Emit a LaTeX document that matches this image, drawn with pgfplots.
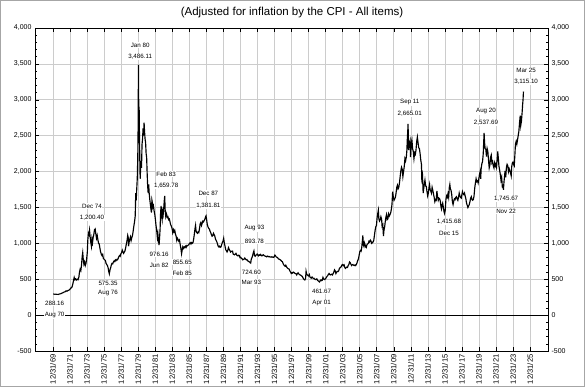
\documentclass[border=0pt]{standalone}
\usepackage{pgfplots}
\pgfplotsset{compat=1.18}
\usepackage{fontspec}
\setmainfont{Liberation Sans}
\definecolor{gridc}{gray}{0.80}
\tikzset{lbl/.style={font=\fontsize{6.2}{7}\selectfont, fill=white, inner sep=0.6pt}}
\pgfplotstableread{
x y
1970.04 296
1970.12 293
1970.2 291
1970.3 292
1970.4 290
1970.5 289
1970.62 288.16
1970.7 292
1970.8 295
1970.9 297
1970.97 300
1971.05 306
1971.15 310
1971.25 318
1971.35 322
1971.45 326
1971.55 338
1971.65 333
1971.75 342
1971.85 346
1971.95 352
1972.05 368
1972.15 380
1972.25 392
1972.35 440
1972.42 480
1972.5 525
1972.58 495
1972.66 505
1972.75 488
1972.85 500
1972.95 492
1973.05 530
1973.12 600
1973.2 640
1973.28 620
1973.36 700
1973.44 820
1973.5 870
1973.56 780
1973.64 710
1973.72 740
1973.8 690
1973.88 720
1973.96 780
1974.04 880
1974.1 1050
1974.17 1140
1974.24 1120
1974.3 1180
1974.37 1090
1974.44 1020
1974.52 960
1974.58 1060
1974.65 1010
1974.72 1080
1974.8 1120
1974.88 1190
1974.96 1200.4
1975.04 1130
1975.12 1070
1975.2 1110
1975.28 1050
1975.36 1000
1975.44 990
1975.52 930
1975.6 880
1975.68 850
1975.76 830
1975.84 845
1975.92 790
1976.0 780
1976.08 770
1976.16 760
1976.24 720
1976.32 705
1976.4 690
1976.48 660
1976.55 610
1976.62 575.35
1976.7 630
1976.78 660
1976.86 700
1976.94 720
1977.02 715
1977.1 740
1977.18 755
1977.26 745
1977.34 770
1977.42 760
1977.5 775
1977.58 770
1977.66 790
1977.74 815
1977.82 830
1977.9 820
1977.98 855
1978.06 870
1978.14 905
1978.22 880
1978.3 860
1978.38 880
1978.46 895
1978.54 940
1978.62 990
1978.7 1040
1978.78 1110
1978.84 1080
1978.88 960
1978.95 1020
1979.03 1060
1979.1 1090
1979.18 1040
1979.26 1080
1979.34 1110
1979.42 1170
1979.5 1240
1979.58 1300
1979.66 1380
1979.72 1700
1979.78 1600
1979.84 1760
1979.9 1900
1979.96 2200
1980.0 2600
1980.04 3486.11
1980.08 2750
1980.12 2900
1980.16 2500
1980.2 2150
1980.24 1900
1980.28 2000
1980.34 2150
1980.4 2050
1980.46 2380
1980.52 2450
1980.58 2600
1980.64 2500
1980.7 2680
1980.76 2550
1980.82 2450
1980.88 2400
1980.94 2250
1981.0 2200
1981.06 1980
1981.12 1800
1981.18 1700
1981.24 1820
1981.3 1700
1981.36 1620
1981.42 1560
1981.5 1480
1981.56 1430
1981.62 1600
1981.68 1560
1981.74 1500
1981.8 1520
1981.88 1450
1981.96 1400
1982.04 1320
1982.1 1250
1982.18 1180
1982.26 1080
1982.32 1130
1982.38 1050
1982.46 976.16
1982.52 1080
1982.58 1200
1982.64 1430
1982.7 1520
1982.76 1380
1982.82 1330
1982.88 1440
1982.94 1400
1983.0 1480
1983.06 1580
1983.12 1659.78
1983.18 1450
1983.24 1380
1983.3 1420
1983.36 1400
1983.42 1360
1983.5 1370
1983.58 1330
1983.66 1340
1983.74 1300
1983.82 1260
1983.9 1240
1983.98 1210
1984.06 1150
1984.14 1190
1984.22 1160
1984.3 1180
1984.38 1130
1984.46 1100
1984.54 1040
1984.62 1070
1984.7 1050
1984.78 1030
1984.86 1045
1984.94 980
1985.02 930
1985.1 855.65
1985.16 900
1985.24 950
1985.32 930
1985.4 950
1985.48 940
1985.56 960
1985.64 945
1985.72 970
1985.8 965
1985.88 975
1985.96 985
1986.04 1000
1986.12 1010
1986.2 990
1986.28 1010
1986.36 1000
1986.44 1010
1986.52 1060
1986.6 1130
1986.68 1210
1986.74 1250
1986.8 1170
1986.88 1150
1986.96 1140
1987.04 1160
1987.12 1150
1987.2 1200
1987.28 1270
1987.36 1290
1987.44 1250
1987.52 1280
1987.6 1310
1987.68 1300
1987.76 1320
1987.84 1340
1987.92 1370
1987.97 1381.81
1988.04 1330
1988.12 1260
1988.2 1230
1988.28 1210
1988.36 1200
1988.44 1170
1988.52 1150
1988.6 1120
1988.68 1100
1988.76 1110
1988.84 1140
1988.92 1120
1989.0 1100
1989.08 1060
1989.16 1040
1989.24 1020
1989.32 990
1989.4 960
1989.48 950
1989.56 960
1989.64 945
1989.72 950
1989.8 980
1989.88 1010
1989.96 1030
1990.04 1070
1990.12 1000
1990.2 960
1990.28 910
1990.36 900
1990.44 880
1990.52 900
1990.6 940
1990.68 920
1990.76 900
1990.84 880
1990.92 890
1991.0 885
1991.08 890
1991.16 850
1991.24 845
1991.32 840
1991.4 850
1991.48 860
1991.56 840
1991.64 830
1991.72 825
1991.8 835
1991.88 830
1991.96 800
1992.04 805
1992.12 790
1992.2 785
1992.28 770
1992.36 775
1992.44 780
1992.52 795
1992.6 780
1992.68 770
1992.76 775
1992.84 760
1992.92 750
1993.0 745
1993.08 740
1993.15 730
1993.21 724.6
1993.28 780
1993.36 800
1993.44 830
1993.52 870
1993.59 893.78
1993.66 830
1993.74 820
1993.82 835
1993.9 840
1993.97 850
1994.05 835
1994.13 825
1994.21 840
1994.29 835
1994.37 845
1994.45 830
1994.53 825
1994.61 835
1994.69 840
1994.77 830
1994.85 825
1994.93 820
1995.01 818
1995.09 812
1995.17 822
1995.25 818
1995.33 812
1995.41 815
1995.49 810
1995.57 808
1995.65 812
1995.73 806
1995.81 810
1995.89 805
1995.97 812
1996.05 835
1996.13 825
1996.21 810
1996.29 805
1996.37 800
1996.45 785
1996.53 780
1996.61 775
1996.69 770
1996.77 760
1996.85 750
1996.93 745
1997.01 720
1997.09 700
1997.17 690
1997.25 680
1997.33 695
1997.41 675
1997.49 660
1997.57 650
1997.65 645
1997.73 640
1997.81 615
1997.89 600
1997.97 580
1998.05 590
1998.13 585
1998.21 600
1998.29 595
1998.37 585
1998.45 580
1998.53 575
1998.61 560
1998.69 580
1998.77 590
1998.85 575
1998.93 565
1999.01 560
1999.09 555
1999.17 548
1999.25 540
1999.33 525
1999.41 505
1999.49 495
1999.57 490
1999.65 510
1999.71 610
1999.77 575
1999.85 560
1999.93 550
2000.01 545
2000.09 565
2000.17 530
2000.25 520
2000.33 515
2000.41 530
2000.49 520
2000.57 510
2000.65 512
2000.73 500
2000.81 495
2000.89 500
2000.97 505
2001.05 485
2001.13 478
2001.21 470
2001.29 461.67
2001.37 478
2001.45 490
2001.53 480
2001.61 485
2001.69 525
2001.77 505
2001.85 495
2001.93 500
2002.01 510
2002.09 525
2002.17 540
2002.25 550
2002.33 570
2002.41 580
2002.49 565
2002.57 560
2002.65 565
2002.73 570
2002.81 560
2002.89 580
2002.97 600
2003.05 630
2003.13 615
2003.21 580
2003.29 600
2003.37 610
2003.45 605
2003.53 615
2003.61 645
2003.69 660
2003.77 665
2003.85 680
2003.93 700
2004.01 705
2004.09 690
2004.17 700
2004.25 665
2004.33 650
2004.41 660
2004.49 670
2004.57 665
2004.65 690
2004.73 705
2004.81 740
2004.89 730
2004.97 710
2005.05 690
2005.13 700
2005.21 705
2005.29 695
2005.37 690
2005.45 700
2005.53 690
2005.61 705
2005.69 730
2005.77 760
2005.85 780
2005.93 830
2006.01 880
2006.09 900
2006.17 890
2006.25 950
2006.33 1050
2006.37 1110
2006.43 980
2006.49 960
2006.55 1010
2006.61 990
2006.69 950
2006.77 940
2006.85 980
2006.93 990
2007.01 1000
2007.09 1030
2007.17 1020
2007.25 1045
2007.33 1030
2007.41 1000
2007.49 1010
2007.57 1020
2007.65 1040
2007.73 1110
2007.81 1180
2007.89 1230
2007.97 1250
2008.05 1360
2008.13 1420
2008.19 1460
2008.25 1340
2008.33 1310
2008.41 1330
2008.49 1370
2008.57 1340
2008.63 1240
2008.71 1260
2008.79 1100
2008.85 1180
2008.93 1230
2008.99 1290
2009.07 1360
2009.15 1400
2009.23 1330
2009.31 1340
2009.39 1410
2009.47 1380
2009.55 1400
2009.63 1420
2009.71 1470
2009.79 1540
2009.87 1720
2009.95 1640
2010.03 1600
2010.11 1620
2010.19 1640
2010.27 1700
2010.35 1780
2010.43 1810
2010.51 1760
2010.59 1780
2010.67 1840
2010.75 1930
2010.83 2010
2010.91 2060
2010.99 2030
2011.07 1930
2011.15 2000
2011.23 2070
2011.31 2180
2011.39 2150
2011.47 2200
2011.53 2280
2011.59 2450
2011.64 2560
2011.68 2665.01
2011.73 2300
2011.79 2430
2011.85 2380
2011.91 2420
2011.97 2200
2012.05 2390
2012.13 2440
2012.21 2320
2012.29 2280
2012.37 2180
2012.45 2260
2012.53 2240
2012.61 2300
2012.69 2420
2012.77 2480
2012.85 2400
2012.93 2330
2013.01 2320
2013.09 2250
2013.17 2160
2013.25 2100
2013.29 1900
2013.37 1950
2013.45 1700
2013.5 1750
2013.58 1820
2013.66 1880
2013.74 1800
2013.82 1790
2013.9 1720
2013.98 1660
2014.06 1700
2014.14 1780
2014.2 1820
2014.26 1750
2014.34 1730
2014.42 1700
2014.5 1780
2014.58 1740
2014.66 1690
2014.74 1640
2014.82 1580
2014.9 1610
2014.98 1600
2015.06 1730
2015.14 1650
2015.22 1600
2015.3 1630
2015.38 1620
2015.46 1590
2015.54 1510
2015.6 1480
2015.66 1530
2015.74 1560
2015.82 1500
2015.9 1440
2015.96 1415.68
2016.04 1460
2016.12 1610
2016.2 1660
2016.28 1640
2016.36 1690
2016.44 1640
2016.52 1780
2016.58 1820
2016.64 1760
2016.72 1740
2016.8 1680
2016.88 1580
2016.96 1540
2017.04 1590
2017.12 1620
2017.2 1610
2017.28 1640
2017.36 1650
2017.44 1620
2017.52 1600
2017.6 1640
2017.68 1700
2017.76 1660
2017.84 1640
2017.92 1630
2017.98 1670
2018.06 1720
2018.14 1690
2018.22 1680
2018.3 1700
2018.38 1660
2018.46 1620
2018.54 1560
2018.62 1530
2018.7 1500
2018.78 1520
2018.86 1540
2018.94 1580
2019.02 1630
2019.1 1650
2019.18 1610
2019.26 1600
2019.34 1610
2019.42 1660
2019.5 1770
2019.58 1840
2019.66 1900
2019.74 1860
2019.82 1870
2019.9 1840
2019.98 1900
2020.06 1960
2020.14 2000
2020.2 1900
2020.26 2050
2020.34 2110
2020.42 2140
2020.5 2250
2020.55 2400
2020.6 2537.69
2020.66 2400
2020.72 2320
2020.8 2310
2020.88 2210
2020.96 2320
2021.04 2280
2021.12 2160
2021.2 2050
2021.28 2090
2021.36 2200
2021.44 2230
2021.52 2120
2021.6 2140
2021.68 2080
2021.76 2050
2021.84 2120
2021.92 2080
2021.98 2100
2022.06 2060
2022.14 2180
2022.2 2280
2022.26 2200
2022.34 2080
2022.42 2020
2022.5 1960
2022.58 1880
2022.66 1920
2022.74 1790
2022.82 1800
2022.87 1745.67
2022.93 1850
2022.99 1920
2023.06 2010
2023.14 1920
2023.22 2060
2023.3 2100
2023.38 2080
2023.46 2000
2023.54 2040
2023.62 2010
2023.7 1980
2023.78 1940
2023.84 2070
2023.92 2120
2023.98 2130
2024.06 2100
2024.14 2080
2024.22 2250
2024.28 2380
2024.36 2420
2024.44 2380
2024.52 2440
2024.6 2500
2024.68 2560
2024.76 2680
2024.84 2780
2024.9 2640
2024.98 2700
2025.06 2820
2025.12 2930
2025.17 3000
2025.22 3115.1
}\golddata

\begin{document}
\begin{tikzpicture}
\useasboundingbox (0pt,0pt) rectangle (585pt,387pt);
\draw[gray!70, line width=1.2pt] (0.6pt,0.6pt) rectangle (584.4pt,386.4pt);
\node[font=\fontsize{11.5}{13}\selectfont] at (292pt,374pt) {(Adjusted for inflation by the CPI - All items)};
\begin{axis}[
  at={(35pt,36pt)}, anchor=south west,
  scale only axis, width=513pt, height=323pt,
  xmin=1967.9, xmax=2028.1, ymin=-500, ymax=4000,
  xtick={1970,1972,...,2026},
  xticklabels={12/31/69,12/31/71,12/31/73,12/31/75,12/31/77,12/31/79,12/31/81,12/31/83,12/31/85,12/31/87,12/31/89,12/31/91,12/31/93,12/31/95,12/31/97,12/31/99,12/31/01,12/31/03,12/31/05,12/31/07,12/31/09,12/31/11,12/31/13,12/31/15,12/31/17,12/31/19,12/31/21,12/31/23,12/31/25},
  ytick={-500,0,...,4000},
  minor x tick num=1, minor y tick num=4,
  grid=major, major grid style={gridc, line width=0.6pt},
  tick align=inside, major tick length=4pt, minor tick length=2.5pt,
  tick style={black, line width=0.5pt},
  axis line style={black, line width=0.7pt},
  /pgf/number format/assume math mode=true,
  /pgf/number format/1000 sep={,},
  yticklabel style={font=\fontsize{7}{8}\selectfont},
  xticklabel style={font=\fontsize{7.6}{8}\selectfont, rotate=90, anchor=east},
  clip=false,
]
\addplot[black, line width=1pt, forget plot] coordinates {(1967.9,0) (2028.1,0)};
\addplot[black, line width=1.15pt] table[x=x,y=y] {\golddata};
\node[lbl] at (axis cs:1970.2,167) {288.16};
\node[lbl] at (axis cs:1970.2,0) {Aug 70};
\node[lbl] at (axis cs:1974.59,1518) {Dec 74};
\node[lbl] at (axis cs:1974.59,1351) {1,200.40};
\node[lbl] at (axis cs:1976.47,446) {575.35};
\node[lbl] at (axis cs:1976.47,306) {Aug 76};
\node[lbl] at (axis cs:1980.24,3761) {Jan 80};
\node[lbl] at (axis cs:1980.24,3594) {3,486.11};
\node[lbl] at (axis cs:1983.29,1964) {Feb 83};
\node[lbl] at (axis cs:1983.29,1797) {1,659.78};
\node[lbl] at (axis cs:1982.47,850) {976.16};
\node[lbl] at (axis cs:1982.47,697) {Jun 82};
\node[lbl] at (axis cs:1985.18,738) {855.65};
\node[lbl] at (axis cs:1985.18,585) {Feb 85};
\node[lbl] at (axis cs:1988.24,1699) {Dec 87};
\node[lbl] at (axis cs:1988.24,1518) {1,381.81};
\node[lbl] at (axis cs:1993.65,1212) {Aug 93};
\node[lbl] at (axis cs:1993.65,1031) {893.78};
\node[lbl] at (axis cs:1993.29,599) {724.60};
\node[lbl] at (axis cs:1993.29,460) {Mar 93};
\node[lbl] at (axis cs:2001.53,334) {461.67};
\node[lbl] at (axis cs:2001.53,167) {Apr 01};
\node[lbl] at (axis cs:2011.88,2967) {Sep 11};
\node[lbl] at (axis cs:2011.88,2800) {2,665.01};
\node[lbl] at (axis cs:2016.47,1295) {1,415.68};
\node[lbl] at (axis cs:2016.47,1142) {Dec 15};
\node[lbl] at (axis cs:2020.82,2842) {Aug 20};
\node[lbl] at (axis cs:2020.82,2675) {2,537.69};
\node[lbl] at (axis cs:2023.18,1616) {1,745.67};
\node[lbl] at (axis cs:2023.18,1449) {Nov 22};
\node[lbl] at (axis cs:2025.53,3413) {Mar 25};
\node[lbl] at (axis cs:2025.53,3246) {3,115.10};
\end{axis}
\begin{axis}[
  at={(35pt,36pt)}, anchor=south west,
  scale only axis, width=513pt, height=323pt,
  xmin=1967.9, xmax=2028.1, ymin=-500, ymax=4000,
  xtick=\empty, ytick={-500,0,...,4000},
  yticklabel pos=right,
  axis line style={draw=none}, major tick length=0pt,
  /pgf/number format/assume math mode=true,
  /pgf/number format/1000 sep={,},
  yticklabel style={font=\fontsize{7}{8}\selectfont},
]
\end{axis}
\end{tikzpicture}
\end{document}
